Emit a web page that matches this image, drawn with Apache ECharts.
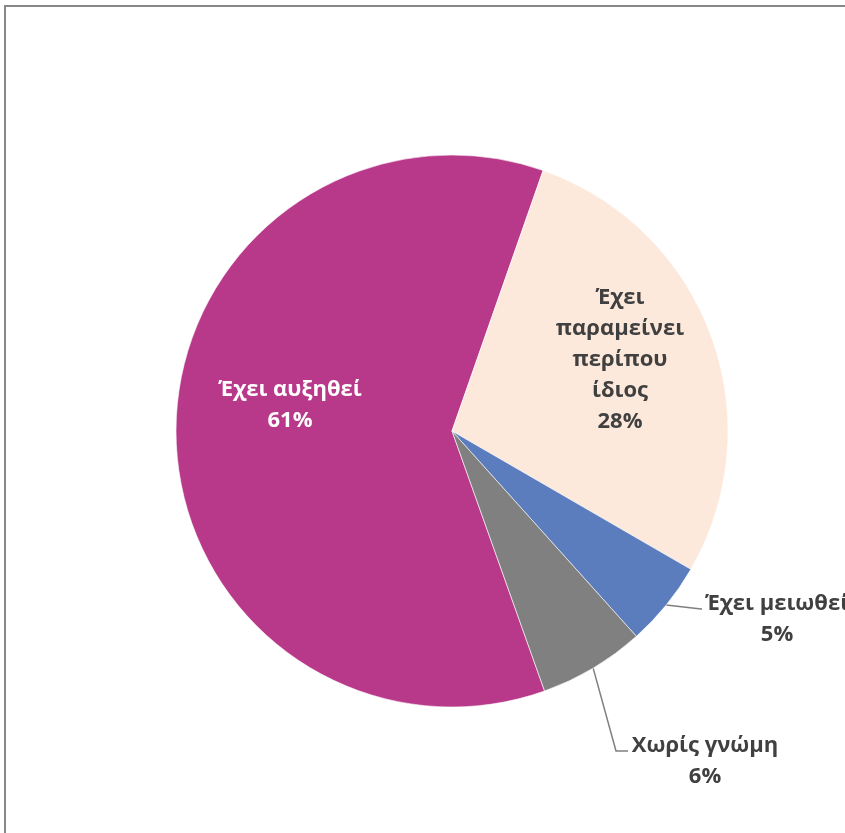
<!DOCTYPE html>
<html>
<head>
<meta charset="utf-8">
<script src="https://cdn.jsdelivr.net/npm/echarts@6/dist/echarts.min.js"></script>
<style>
  html, body { margin: 0; padding: 0; background: #fff; }
  #chart { width: 845px; height: 833px; }
</style>
</head>
<body>
<div id="chart"></div>
<script>
// Data
const categories = ['Έχει αυξηθεί', 'Έχει παραμείνει περίπου ίδιος', 'Έχει μειωθεί', 'Χωρίς γνώμη'];
const values = [60.8, 28.0, 5.0, 6.2];
const colors = ['#B8398A', '#FDE9DB', '#5B7CBD', '#808080'];

// Label placement (layout only)
const labelCenters = [[290, 405], [620, 360], [777, 619], [705, 761]];
const textColors = ['#FFFFFF', '#404040', '#404040', '#404040'];

const chart = echarts.init(document.getElementById('chart'), null, { renderer: 'canvas' });

const seriesData = categories.map((name, i) => ({
  name: name,
  value: values[i],
  itemStyle: { color: colors[i] },
  label: {
    position: i < 2 ? 'inside' : 'outside',
    color: textColors[i]
  },
  labelLine: { show: i >= 2 }
}));

chart.setOption({
  animation: false,
  backgroundColor: '#ffffff',
  graphic: [{
    type: 'rect',
    shape: { x: 5, y: 6, width: 1200, height: 1200 },
    style: { fill: 'none', stroke: '#888888', lineWidth: 2 },
    silent: true
  }],
  series: [{
    type: 'pie',
    center: [452, 431],
    radius: 276,
    startAngle: -70.4,
    clockwise: true,
    avoidLabelOverlap: false,
    itemStyle: { borderColor: '#ffffff', borderWidth: 0.6 },
    label: {
      show: true,
      fontFamily: 'Open Sans',
      fontWeight: 'bold',
      fontSize: 22,
      lineHeight: 31,
      align: 'center',
      formatter: function (p) {
        const name = p.dataIndex === 1 ? p.name.split(' ').join('\n') : p.name;
        return name + '\n' + Math.round(p.percent) + '%';
      }
    },
    labelLine: {
      show: true,
      length: 5,
      length2: 10,
      lineStyle: { color: '#7f7f7f', width: 1.5 }
    },
    labelLayout: function (params) {
      const i = params.dataIndex;
      const c = labelCenters[i];
      const out = { x: c[0], y: c[1], align: 'center', verticalAlign: 'middle' };
      const pts = params.labelLinePoints;
      if (i === 2 && pts) {
        out.labelLinePoints = [pts[0], [c[0] - 76, c[1] - 10], [c[0] - 75, c[1] - 10]];
      } else if (i === 3 && pts) {
        out.labelLinePoints = [pts[0], [c[0] - 89, c[1] - 10], [c[0] - 77, c[1] - 10]];
      }
      return out;
    },
    data: seriesData
  }]
});
</script>
</body>
</html>
